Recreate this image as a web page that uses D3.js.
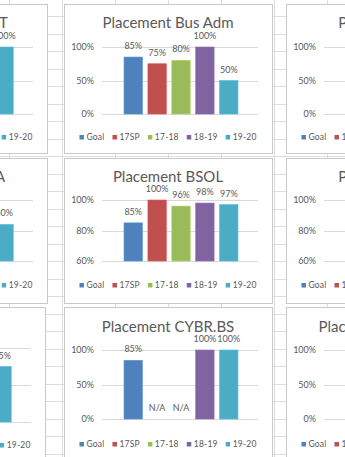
<!DOCTYPE html>
<html><head><meta charset="utf-8">
<script src="https://cdn.jsdelivr.net/npm/d3@7"></script>
<style>
html,body{margin:0;padding:0;background:#fff;overflow:hidden;}
svg{display:block;}
text{font-family:Lato,"Open Sans",sans-serif;fill:#595959;}
</style></head>
<body>
<svg id="c" width="345" height="457"></svg>
<script>
// ---- data ----
const seriesNames = ["Goal", "17SP", "17-18", "18-19", "19-20"];
const seriesColors = ["#4F81BD", "#C0504D", "#9BBB59", "#8064A2", "#4BACC6"];
const chartTitles = ["Placement CYBR.IT", "Placement Bus Adm", "Placement BSIT",
                     "Placement BSHCA", "Placement BSOL", "Placement BSIT",
                     "Placement BSMA", "Placement CYBR.BS", "Placement CYBR.AAS"];
// values per chart (null = not visible / not available)
const leftTopValues   = [null, null, null, null, 1.00];
const busAdmValues    = [0.85, 0.75, 0.80, 1.00, 0.50];
const rightTopValues  = [null, null, null, null, null];
const leftMidValues   = [null, null, null, null, 0.60];
const bsolValues      = [0.85, 1.00, 0.96, 0.98, 0.97];
const rightMidValues  = [null, null, null, null, null];
const leftBotValues   = [null, null, null, null, 0.75];
const cybrValues      = [0.85, "N/A", "N/A", 1.00, 1.00];
const rightBotValues  = [null, null, null, null, null];
const ticksFull = [0, 0.5, 1];
const ticksHigh = [0.6, 0.8, 1];

const chartValues = [leftTopValues, busAdmValues, rightTopValues,
                     leftMidValues, bsolValues, rightMidValues,
                     leftBotValues, cybrValues, rightBotValues];
const chartTicks = [ticksFull, ticksFull, ticksFull,
                    ticksFull, ticksHigh, ticksHigh,
                    ticksFull, ticksFull, ticksFull];

// ---- layout ----
const svg = d3.select("#c");
const W = 345, H = 457;
const cellColor = "#dcdcdc", borderColor = "#c8c8c8", gridColor = "#d9d9d9";

// spreadsheet cells
const colLines = d3.range(9, W, 53);
const rowLines = d3.range(16, H, 17.5);
svg.append("g").selectAll("line").data(colLines).join("line")
  .attr("x1", d => d + 0.5).attr("x2", d => d + 0.5).attr("y1", 0).attr("y2", H)
  .attr("stroke", cellColor);
svg.append("g").selectAll("line").data(rowLines).join("line")
  .attr("y1", d => Math.round(d) + 0.5).attr("y2", d => Math.round(d) + 0.5).attr("x1", 0).attr("x2", W)
  .attr("stroke", cellColor);

const colX = [-159, 64, 286];
const colW = [206, 208, 208];
const rows = [
  {top: 4, bottom: 153, title: 23, plotTop: 47, plotBot: 114, legend: 137},
  {top: 158, bottom: 303, title: 177, plotTop: 200, plotBot: 261, legend: 285},
  {top: 307, bottom: 480, title: 327, plotTop: 350, plotBot: 419, legend: 444}
];

function drawChart(i) {
  const r = Math.floor(i / 3), c = i % 3;
  let row = Object.assign({}, rows[r]);
  let x0 = colX[c], boxW = colW[c];
  if (r === 2 && c === 0) { x0 = -161; row.plotTop = 348; row.plotBot = 422; row.legend = 445; }
  const values = chartValues[i], ticks = chartTicks[i];
  const g = svg.append("g");
  g.append("rect").attr("x", x0 + 0.5).attr("y", row.top + 0.5)
    .attr("width", boxW).attr("height", row.bottom - row.top)
    .attr("fill", "#fff").attr("stroke", borderColor);

  const px0 = x0 + 38, px1 = x0 + boxW - 14;
  const y = d3.scaleLinear().domain([ticks[0], ticks[ticks.length - 1]]).range([row.plotBot, row.plotTop]);
  const x = d3.scaleBand().domain(seriesNames).range([px0 + 1, px1 + 1]).paddingInner(0.23).paddingOuter(0.88);

  // gridlines
  g.append("g").selectAll("line").data(ticks).join("line")
    .attr("x1", px0).attr("x2", px1)
    .attr("y1", d => Math.round(y(d)) + 0.5).attr("y2", d => Math.round(y(d)) + 0.5)
    .attr("stroke", gridColor);
  // y labels
  const yAxis = d3.axisLeft(y).tickValues(ticks).tickFormat(d3.format(".0%")).tickSize(0).tickPadding(0);
  const ya = g.append("g").attr("transform", `translate(${x0 + 30},0)`).call(yAxis);
  ya.select(".domain").remove();
  ya.selectAll("text").attr("font-size", 9).attr("fill", "#595959").style("font-family", "Lato");

  // title
  g.append("text").attr("x", x0 + boxW / 2).attr("y", row.title + 5)
    .attr("text-anchor", "middle").attr("font-size", 15).text(chartTitles[i]);

  // bars
  const data = seriesNames.map((s, k) => ({s, k, v: values[k]}));
  g.append("g").selectAll("rect").data(data.filter(d => typeof d.v === "number")).join("rect")
    .attr("x", d => x(d.s)).attr("width", x.bandwidth())
    .attr("y", d => y(d.v)).attr("height", d => y(ticks[0]) - y(d.v))
    .attr("fill", d => seriesColors[d.k])
    .attr("stroke", d => d3.color(seriesColors[d.k]).brighter(0.3)).attr("stroke-width", 0.6);
  g.append("g").selectAll("text").data(data.filter(d => d.v !== null)).join("text")
    .attr("x", d => x(d.s) + x.bandwidth() / 2)
    .attr("y", d => (typeof d.v === "number" ? y(d.v) : y(ticks[0])) - 8)
    .attr("text-anchor", "middle").attr("font-size", 9)
    .text(d => typeof d.v === "number" ? d3.format(".0%")(d.v) : d.v);

  // legend
  const lg = g.append("g");
  const items = lg.selectAll("g").data(seriesNames).join("g");
  items.append("rect").attr("width", 4.5).attr("height", 4.5).attr("y", row.legend - 2)
    .attr("fill", (d, k) => seriesColors[k]);
  items.append("text").attr("x", 7).attr("y", row.legend + 3).attr("font-size", 8.5)
    .attr("letter-spacing", 0.2).text(d => d);
  let widths = [];
  items.each(function () { widths.push(7 + this.querySelector("text").getComputedTextLength()); });
  const gap = 8;
  const total = d3.sum(widths) + gap * (widths.length - 1);
  let cx = x0 + boxW / 2 - total / 2;
  items.attr("transform", (d, k) => {
    const t = `translate(${cx},0)`; cx += widths[k] + gap; return t;
  });
}
for (let i = 0; i < 9; i++) drawChart(i);
</script>
</body></html>
